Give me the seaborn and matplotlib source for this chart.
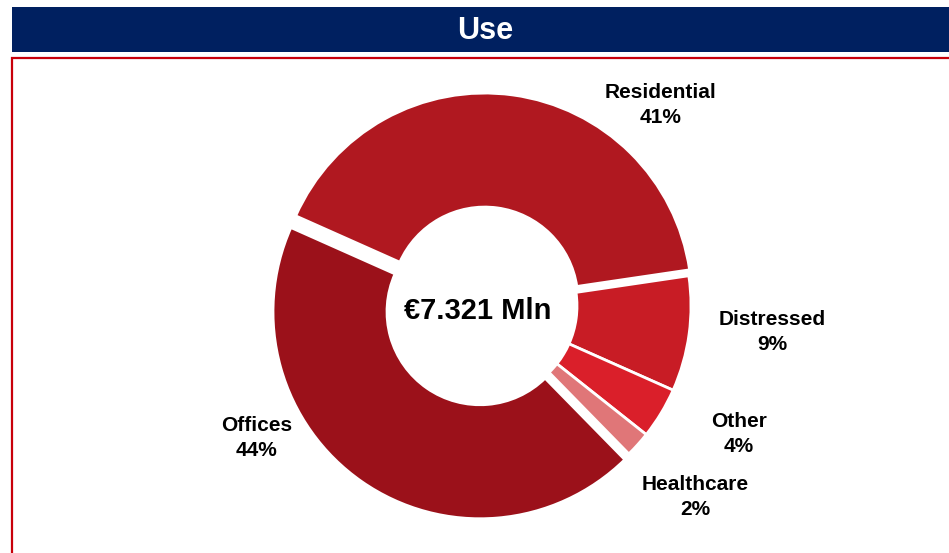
import matplotlib.pyplot as plt
import matplotlib.patches as mpatches
import seaborn as sns

sns.set_theme(style="white")
plt.rcParams['font.family'] = ['Liberation Sans', 'DejaVu Sans']

# Dados
categorias = ['Residential', 'Distressed', 'Other', 'Healthcare', 'Offices']
percentuais = [41, 9, 4, 2, 44]
cores = ['#B01820', '#C81C25', '#DA1F2A', '#E07678', '#9B111A']
destaque = [6, 0, 0, 0, 7]
total_txt = '€7.321 Mln'
titulo = 'Use'

W, H = 949, 553
fig = plt.figure(figsize=(W / 100, H / 100), dpi=100)
ax = fig.add_axes([0, 0, 1, 1])
ax.set_xlim(0, W)
ax.set_ylim(0, H)
ax.set_aspect('equal')
ax.axis('off')

# Barra do titulo e moldura vermelha
ax.add_patch(mpatches.Rectangle((12, H - 52), W, 45, facecolor='#002060', edgecolor='none'))
ax.text(485, H - 31, titulo, color='white', fontsize=22, fontweight='bold',
        ha='center', va='center')
ax.add_patch(mpatches.Rectangle((12, -20), W + 20, H - 58 + 20, facecolor='none',
                                edgecolor='#C8000A', linewidth=1.6))

# Donut
cx, cy = 484, H - 306
wedges, _ = ax.pie(percentuais, colors=cores, explode=destaque, startangle=156,
                   counterclock=False, radius=207, center=(cx, cy),
                   wedgeprops=dict(width=114, edgecolor='white', linewidth=2))
ax.set_xlim(0, W)
ax.set_ylim(0, H)

ax.text(478, H - 311, total_txt, fontsize=21, fontweight='bold', ha='center',
        va='center', color='black')

# Rotulos (posicionados como no original)
pos_rotulos = [(661, 105), (772, 332), (739, 434), (695, 497), (257, 438)]
for cat, pct, (lx, ly) in zip(categorias, percentuais, pos_rotulos):
    ax.text(lx, H - ly, f'{cat}\n{pct}%', fontsize=15, fontweight='bold',
            ha='center', va='center', linespacing=1.35, color='black')

fig.savefig('out.png', dpi=100)
